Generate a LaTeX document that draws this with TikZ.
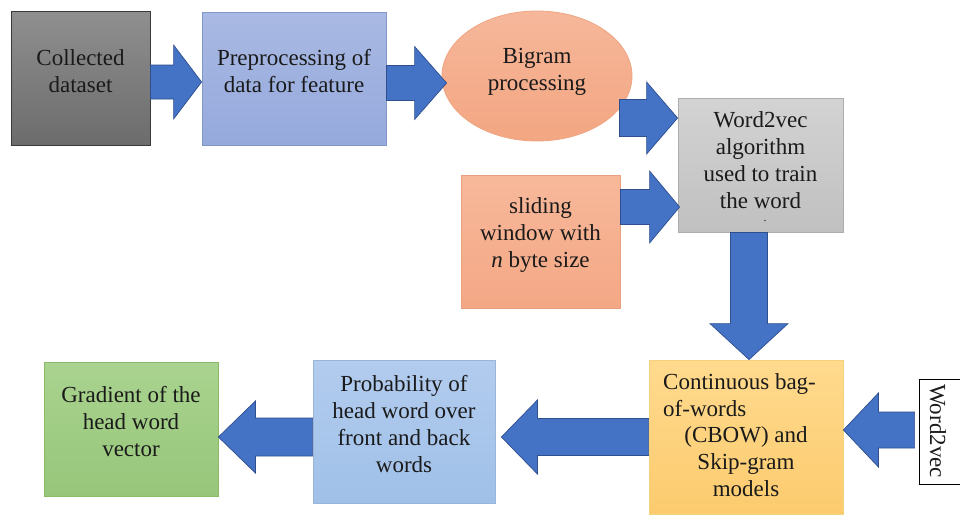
\documentclass[tikz,border=0pt]{standalone}
\usepackage{fontspec}
\setmainfont{Liberation Serif}
\usetikzlibrary{calc,shapes.geometric}
\definecolor{collTop}{HTML}{8F8F8F}\definecolor{collBot}{HTML}{6C6C6C}\definecolor{collEdge}{HTML}{3A3A3A}
\definecolor{preTop}{HTML}{A9B9E3}\definecolor{preBot}{HTML}{95A9DC}\definecolor{preEdge}{HTML}{8297C8}
\definecolor{bigTop}{HTML}{F6B79A}\definecolor{bigBot}{HTML}{F3A682}\definecolor{bigEdge}{HTML}{EFA582}
\definecolor{wTop}{HTML}{D3D3D3}\definecolor{wBot}{HTML}{C0C0C0}\definecolor{wEdge}{HTML}{ADADAD}
\definecolor{slTop}{HTML}{F7B89A}\definecolor{slBot}{HTML}{F4A885}\definecolor{slEdge}{HTML}{E9A07E}
\definecolor{cbTop}{HTML}{FFDA8E}\definecolor{cbBot}{HTML}{FCCB6E}\definecolor{cbEdge}{HTML}{F5D27E}
\definecolor{prTop}{HTML}{B2CCEE}\definecolor{prBot}{HTML}{A0C0E8}\definecolor{prEdge}{HTML}{9AB5DA}
\definecolor{grTop}{HTML}{A9D38F}\definecolor{grBot}{HTML}{97C67A}\definecolor{grEdge}{HTML}{8BBB69}
\definecolor{arrBlue}{HTML}{4472C4}\definecolor{arrEdge}{HTML}{2F4F8F}
\definecolor{txtCol}{HTML}{1A1A1A}
\newcommand\blockarrow[5]{%
  \coordinate (bah) at ($(#2)!#5!(#1)$);
  \filldraw[arrowstyle] ($(#1)!#3!90:(#2)$) -- ($(bah)!#3!90:(#2)$) -- ($(bah)!#4!90:(#2)$) -- (#2)
    -- ($(bah)!#4!-90:(#2)$) -- ($(bah)!#3!-90:(#2)$) -- ($(#1)!#3!-90:(#2)$) -- cycle;}
\begin{document}
\begin{tikzpicture}[x=1pt,y=-1pt,
  box/.style={draw, line width=0.8pt, inner sep=0pt},
  txt/.style={font=\rmfamily\fontsize{23}{27}\selectfont, align=center, text=txtCol, inner sep=0pt},
  arrowstyle/.style={fill=arrBlue, draw=arrEdge, line width=0.7pt, line join=miter}]
\useasboundingbox (0,0) rectangle (960,515);
\fill[white] (0,0) rectangle (960,515);

% shapes
\node[box, draw=collEdge, top color=collTop, bottom color=collBot, minimum width=139pt, minimum height=134pt] (coll) at (80.5,78) {};
\node[box, draw=preEdge, top color=preTop, bottom color=preBot, minimum width=184pt, minimum height=133pt] (pre) at (294,78.5) {};
\node[box, ellipse, draw=bigEdge, top color=bigTop, bottom color=bigBot, minimum width=190pt, minimum height=130pt] (bigram) at (537,76) {};
\node[box, draw=wEdge, top color=wTop, bottom color=wBot, minimum width=165pt, minimum height=134pt] (w2v) at (760.5,165) {};
\node[box, draw=slEdge, top color=slTop, bottom color=slBot, minimum width=159pt, minimum height=133pt] (slide) at (540.5,241.5) {};
\node[box, draw=cbEdge, top color=cbTop, bottom color=cbBot, minimum width=194pt, minimum height=154pt] (cbow) at (746,437) {};
\node[box, draw=black, fill=white, minimum width=46pt, minimum height=105pt] (rot) at (942,431.5) {};
\node[box, draw=prEdge, top color=prTop, bottom color=prBot, minimum width=182pt, minimum height=143pt] (prob) at (404,431.5) {};
\node[box, draw=grEdge, top color=grTop, bottom color=grBot, minimum width=174pt, minimum height=134pt] (grad) at (131,429) {};

% texts
\node[txt] (coll-t) at ($(coll)+(0,-7)$) {Collected\\dataset};
\node[txt] (pre-t) at ($(pre)+(0,-7)$) {Preprocessing of\\data for feature};
\node[txt] (bigram-t) at ($(bigram)+(0,-4.5)$) {Bigram\\processing};
\node[txt] (w2v-t) at ($(w2v)+(0,-4.5)$) {Word2vec\\algorithm\\used to train\\the word};
\node[txt, font=\rmfamily\fontsize{12}{12}\selectfont] (w2v-dot) at (765,221) {.};
\node[txt] (slide-t) at ($(slide)+(0,-6.5)$) {sliding\\window with\\\textit{n} byte size};
\node[txt, align=left, anchor=north west] (cbow-a) at (663,373) {Continuous bag-\\of-words};
\node[txt] (cbow-b) at (746,462) {(CBOW) and\\Skip-gram\\models};
\node[txt, rotate=-90] (rot-t) at (938,431) {Word2vec};
\node[txt] (prob-t) at ($(prob)+(0,-7)$) {Probability of\\head word over\\front and back\\words};
\node[txt] (grad-t) at ($(grad)+(0,-7)$) {Gradient of the\\head word\\vector};

% connectors
\coordinate (a1s) at ($(coll.east)+(0,4)$);
\coordinate (a1e) at (pre.west |- a1s);
\blockarrow{a1s}{a1e}{17pt}{37pt}{28pt}
\coordinate (a2s) at ($(pre.east)+(0,4.5)$);
\coordinate (a2e) at ($(bigram.west)+(5,7)$);
\blockarrow{a2s}{a2e}{17.5pt}{36.5pt}{32pt}
\coordinate (a3s) at ($(bigram.east)+(-13,42)$);
\coordinate (a3e) at (w2v.west |- a3s);
\blockarrow{a3s}{a3e}{18.5pt}{36pt}{31pt}
\coordinate (a4s) at ($(slide.east)+(0,-34.5)$);
\coordinate (a4e) at ($(w2v.west |- a4s)+(2,0)$);
\blockarrow{a4s}{a4e}{17.5pt}{36pt}{30pt}
\coordinate (a5s) at ($(w2v.south)+(-11.5,0)$);
\coordinate (a5e) at (a5s |- cbow.north);
\blockarrow{a5s}{a5e}{18.5pt}{39pt}{36pt}
\coordinate (a6s) at ($(rot.west)+(-4,-1.5)$);
\coordinate (a6e) at (cbow.east |- a6s);
\blockarrow{a6s}{a6e}{18pt}{37pt}{35pt}
\coordinate (a7s) at ($(cbow.west)+(0,0)$);
\coordinate (a7e) at ($(prob.east |- a7s)+(6,0)$);
\blockarrow{a7s}{a7e}{18.5pt}{37pt}{36pt}
\coordinate (a8s) at ($(prob.west)+(0,5.5)$);
\coordinate (a8e) at (grad.east |- a8s);
\blockarrow{a8s}{a8e}{19pt}{36pt}{37pt}
\end{tikzpicture}
\end{document}
